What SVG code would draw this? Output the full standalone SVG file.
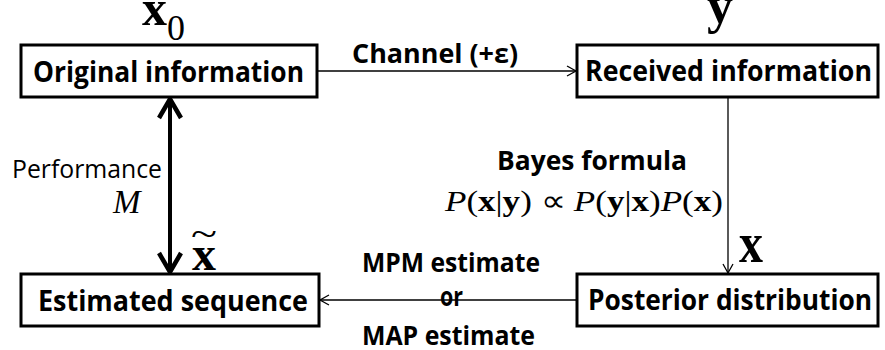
<svg xmlns="http://www.w3.org/2000/svg" width="885" height="350" viewBox="0 0 885 350">
<style>
.box{fill:#fff;stroke:#000;stroke-width:3}
.lbl{font-family:"Open Sans","Liberation Sans",sans-serif;font-weight:bold;font-size:28px;fill:#000}
.edge{font-family:"Open Sans","Liberation Sans",sans-serif;font-weight:bold;font-size:27px;fill:#000}
.reg{font-family:"Open Sans","Liberation Sans",sans-serif;font-size:26px;fill:#000}
.math{font-family:"Liberation Serif","Times New Roman",serif;fill:#000}
.b{font-weight:bold}
.i{font-style:italic}
.thin{stroke:#000;stroke-width:1.3;fill:none}
.thick{stroke:#000;stroke-width:4;fill:none}
</style>
<defs>
<marker id="ah" viewBox="0 0 12 12" markerWidth="12" markerHeight="12" refX="10" refY="6" orient="auto-start-reverse" markerUnits="userSpaceOnUse">
<path d="M1,1 L10,6 L1,11" fill="none" stroke="#000" stroke-width="1.3"/>
</marker>
<marker id="ahb" viewBox="0 0 26 28" markerWidth="26" markerHeight="28" refX="22" refY="14" orient="auto-start-reverse" markerUnits="userSpaceOnUse">
<path d="M3,3 L22,14 L3,25" fill="none" stroke="#000" stroke-width="4.5"/>
</marker>
</defs>

<g id="connectors">
<line class="thin" x1="318" y1="71" x2="576" y2="71" marker-end="url(#ah)"/>
<line class="thin" x1="728" y1="98" x2="728" y2="273" marker-end="url(#ah)"/>
<line class="thin" x1="577" y1="300" x2="320" y2="300" marker-end="url(#ah)"/>
<line class="thick" x1="170" y1="99" x2="170" y2="272" marker-start="url(#ahb)" marker-end="url(#ahb)"/>
</g>

<g id="original">
<rect class="box" x="21" y="45" width="296" height="52"/>
<text class="lbl" x="33" y="82" textLength="271" lengthAdjust="spacingAndGlyphs">Original information</text>
<text class="math b" x="142" y="25" font-size="50">x</text>
<text class="math" x="167" y="40" font-size="36">0</text>
</g>

<g id="received">
<rect class="box" x="577" y="45" width="301" height="52"/>
<text class="lbl" x="585" y="81" textLength="287" lengthAdjust="spacingAndGlyphs">Received information</text>
<text class="math b" x="707" y="23" font-size="52">y</text>
</g>

<g id="posterior">
<rect class="box" x="577" y="274" width="301" height="52"/>
<text class="lbl" x="588" y="310" textLength="284" lengthAdjust="spacingAndGlyphs">Posterior distribution</text>
<text class="math b" x="739" y="262" font-size="58" textLength="24" lengthAdjust="spacingAndGlyphs">x</text>
</g>

<g id="estimated">
<rect class="box" x="21" y="274" width="298" height="52"/>
<text class="lbl" x="38" y="311" textLength="270" lengthAdjust="spacingAndGlyphs">Estimated sequence</text>
<text class="math b" x="192" y="270" font-size="48">x</text>
<text class="math" x="191" y="246" font-size="36" textLength="26" lengthAdjust="spacingAndGlyphs">~</text>
</g>

<g id="labels">
<text class="edge" x="352" y="63" font-size="28" textLength="166" lengthAdjust="spacingAndGlyphs">Channel (+ε)</text>
<text class="edge" x="497" y="170" textLength="190" lengthAdjust="spacingAndGlyphs">Bayes formula</text>
<text class="math" x="445" y="211" font-size="30" textLength="278" lengthAdjust="spacingAndGlyphs"><tspan class="i">P</tspan>(<tspan class="b">x</tspan>|<tspan class="b">y</tspan>) ∝ <tspan class="i">P</tspan>(<tspan class="b">y</tspan>|<tspan class="b">x</tspan>)<tspan class="i">P</tspan>(<tspan class="b">x</tspan>)</text>
<text class="reg" x="12" y="178" textLength="150" lengthAdjust="spacingAndGlyphs">Performance</text>
<text class="math i" x="113" y="213" font-size="33">M</text>
<text class="edge" x="362" y="272" textLength="178" lengthAdjust="spacingAndGlyphs">MPM estimate</text>
<text class="edge" x="440" y="306" textLength="23" lengthAdjust="spacingAndGlyphs">or</text>
<text class="edge" x="362" y="345" textLength="173" lengthAdjust="spacingAndGlyphs">MAP estimate</text>
</g>
</svg>
